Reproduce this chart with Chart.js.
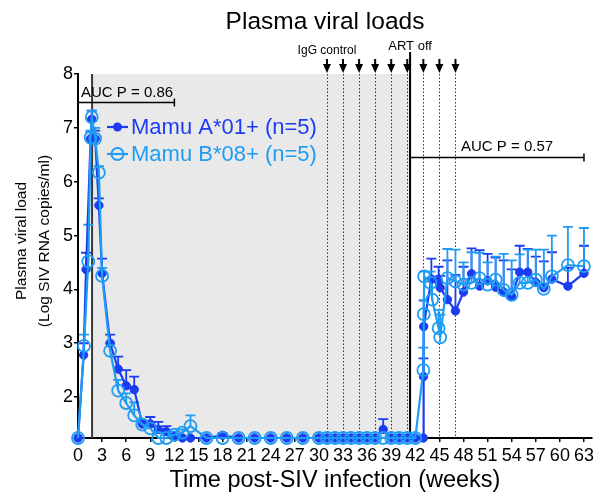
<!DOCTYPE html>
<html><head><meta charset="utf-8">
<script src="https://cdn.jsdelivr.net/npm/chart.js@4.4.1/dist/chart.umd.min.js"></script>
<style>html,body{margin:0;padding:0;background:#fff}canvas{display:block}</style>
</head><body>
<canvas id="c" width="602" height="499"></canvas>
<script>
// ---------- data ----------
const LOD = 1.24; // limit of detection (bottom of axis)
const L = LOD;

// Mamu A*01+ (n=5)
const weeksA = [0, 0.7, 1.0, 1.57, 1.71, 2.14, 2.6, 3, 4, 5, 6, 7, 8, 9, 10, 11, 12, 13, 14, 16, 18,
  20, 22, 24, 26, 28, 30, 31, 32, 33, 34, 35, 36, 37, 38, 39, 40, 41, 42, 43, 43.02, 43.05,
  44, 44.9, 45.1, 46, 47, 48, 49, 50, 51, 52, 53, 54, 55, 56, 57, 58, 59, 61, 63];
const loadA = [L, 2.78, 4.37, 6.80, 7.16, 6.80, 5.56, 4.30, 3.00, 2.52, 2.21, 2.14, 1.50, 1.50, 1.40, 1.36, 1.27, L, L, L, 1.29,
  L, L, L, L, L, L, L, L, L, L, L, L, L, 1.40, L, L, L, L, L, 2.38, 3.31,
  4.19, 4.15, 4.03, 3.81, 3.60, 3.95, 4.29, 4.06, 4.16, 4.04, 3.95, 3.87, 4.32, 4.32, 4.13, 4.03, 4.19, 4.06, 4.30];
const errTopA = [null, 3.00, 4.68, 6.92, 7.32, 6.95, 5.69, 4.57, 3.16, 2.75, 2.50, 2.38, 1.56, 1.63, 1.54, 1.46, 1.32, null, null, null, 1.33,
  null, null, null, null, null, null, null, null, null, null, null, null, null, 1.59, null, null, null, null, null, 2.72, 3.79,
  4.57, 4.42, 4.25, 4.54, 4.27, 4.42, 4.76, 4.73, 4.66, 4.59, 4.54, 4.37, 4.81, 4.75, 4.61, 4.52, 4.69, 4.40, 4.81];

// Mamu B*08+ (n=5)
const weeksB = [0, 0.75, 1.28, 1.57, 1.71, 2.14, 2.6, 3, 4, 5, 6, 7, 8, 9, 10, 11, 12, 13, 14, 16, 18,
  20, 22, 24, 26, 28, 30, 31, 32, 33, 34, 35, 36, 37, 38, 39, 40, 41, 42, 43, 43.05, 43.1,
  43.9, 44.1, 44.9, 45.1, 46, 47, 48, 49, 50, 51, 52, 53, 54, 55, 56, 57, 58, 59, 61, 63];
const loadB = [L, 2.95, 4.52, 6.82, 7.20, 6.80, 6.17, 4.25, 2.86, 2.12, 1.89, 1.66, 1.49, 1.42, L, L, 1.30, 1.34, 1.46, L, L,
  L, L, L, L, L, L, L, L, L, L, L, L, L, L, L, L, L, L, 2.50, 3.54, 4.24,
  4.12, 3.81, 3.28, 3.11, 4.21, 4.15, 4.09, 4.12, 4.21, 4.09, 4.18, 3.99, 3.90, 4.12, 4.12, 4.18, 4.01, 4.24, 4.45, 4.43];
const errTopB = [null, 3.16, 5.20, 6.95, 7.32, 7.00, 6.29, 4.40, 3.00, 2.32, 2.07, 1.90, 1.55, 1.50, null, null, 1.36, 1.40, 1.66, null, null,
  null, null, null, null, null, null, null, null, null, null, null, null, null, null, null, null, null, null, 2.92, 3.80, 4.33,
  4.33, 4.20, 3.62, 3.53, 4.75, 4.74, 4.50, 4.69, 4.68, 4.50, 4.61, 4.66, 4.54, 4.65, 4.74, 4.74, 4.74, 5.00, 5.16, 5.14];

const xTickValues = [0, 3, 6, 9, 12, 15, 18, 21, 24, 27, 30, 33, 36, 39, 42, 45, 48, 51, 54, 57, 60, 63];
const yTickValues = [2, 3, 4, 5, 6, 7, 8];

// annotations (in data units)
const shadeFromWeek = 1.75, shadeToWeek = 41.35;
const peakLineWeek = 1.75;
const artOffWeek = 41.35;
const igGWeeks = [31, 33, 35, 37, 39, 41, 43, 45, 47];
const auc1 = {from: 0, to: 12, level: 7.48, text: 'AUC P = 0.86'};
const auc2 = {from: 41.35, to: 63, level: 6.45, text: 'AUC P = 0.57'};

const labelA = 'Mamu A*01+ (n=5)';
const labelB = 'Mamu B*08+ (n=5)';
const colA = '#1c3cf2';
const colB = '#1f9cf3';
const FONT = "'Liberation Sans', Arial, sans-serif";

// ---------- plugins ----------
const deco = {
  id: 'deco',
  beforeDraw(chart) {
    const {ctx, chartArea: a, scales: {x}} = chart;
    const x0 = x.getPixelForValue(shadeFromWeek), x1 = x.getPixelForValue(shadeToWeek);
    ctx.save();
    ctx.fillStyle = '#e9e9e9';
    ctx.fillRect(x0, a.top, x1 - x0, a.bottom - a.top);
    ctx.restore();
  },
  beforeDatasetsDraw(chart) {
    const {ctx, chartArea: a, scales: {x, y}} = chart;
    ctx.save();
    ctx.strokeStyle = '#333';
    ctx.lineWidth = 1;
    ctx.setLineDash([1.5, 2]);
    igGWeeks.forEach(w => {
      const px = Math.round(x.getPixelForValue(w)) + 0.5;
      ctx.beginPath(); ctx.moveTo(px, a.top); ctx.lineTo(px, a.bottom); ctx.stroke();
    });
    ctx.setLineDash([]);
    ctx.strokeStyle = '#3a3a3a';
    ctx.lineWidth = 2;
    let px = x.getPixelForValue(peakLineWeek);
    ctx.beginPath(); ctx.moveTo(px, a.top); ctx.lineTo(px, a.bottom); ctx.stroke();
    ctx.strokeStyle = '#000';
    px = x.getPixelForValue(artOffWeek);
    ctx.beginPath(); ctx.moveTo(px, 52); ctx.lineTo(px, a.bottom); ctx.stroke();
    const sets = [[1, errTopA, colA], [0, errTopB, colB]];
    sets.forEach(([di, errs, col]) => {
      const meta = chart.getDatasetMeta(di);
      ctx.strokeStyle = col;
      ctx.lineWidth = 1.8;
      meta.data.forEach((pt, j) => {
        const e = errs[j];
        if (e == null) return;
        const yt = y.getPixelForValue(e);
        ctx.beginPath();
        ctx.moveTo(pt.x, pt.y); ctx.lineTo(pt.x, yt);
        ctx.moveTo(pt.x - 5, yt); ctx.lineTo(pt.x + 5, yt);
        ctx.stroke();
      });
    });
    ctx.restore();
  },
  afterDraw(chart) {
    const {ctx, chartArea: a, scales: {x, y}} = chart;
    ctx.save();
    ctx.fillStyle = '#000'; ctx.strokeStyle = '#000'; ctx.lineWidth = 2;
    igGWeeks.forEach(w => {
      const px = x.getPixelForValue(w);
      ctx.beginPath(); ctx.moveTo(px, 59); ctx.lineTo(px, 66); ctx.stroke();
      ctx.beginPath(); ctx.moveTo(px - 4, 64); ctx.lineTo(px + 4, 64); ctx.lineTo(px, 73); ctx.closePath(); ctx.fill();
    });
    ctx.textAlign = 'center'; ctx.textBaseline = 'alphabetic';
    ctx.font = '12px ' + FONT;
    ctx.fillText('IgG control', x.getPixelForValue(igGWeeks[0]), 54);
    ctx.font = '13px ' + FONT;
    ctx.fillText('ART off', x.getPixelForValue(artOffWeek), 50);
    ctx.lineWidth = 1.5;
    [auc1, auc2].forEach((b, i) => {
      const x0 = x.getPixelForValue(b.from), x1 = x.getPixelForValue(b.to), yy = Math.round(y.getPixelForValue(b.level)) + 0.5;
      ctx.beginPath();
      ctx.moveTo(x0, yy); ctx.lineTo(x1, yy);
      ctx.moveTo(x0, yy - 4); ctx.lineTo(x0, yy + 4);
      ctx.moveTo(x1, yy - 4); ctx.lineTo(x1, yy + 4);
      ctx.stroke();
      ctx.font = '15px ' + FONT;
      if (i === 0) { ctx.textAlign = 'left'; ctx.fillText(b.text, x0 + 3, yy - 6); }
      else { ctx.textAlign = 'center'; ctx.fillText(b.text, (x0 + x1) / 2 + 10, yy - 7); }
    });
    ctx.textAlign = 'center';
    ctx.font = '24.5px ' + FONT;
    ctx.fillText('Plasma viral loads', 325, 29);
    ctx.save();
    ctx.translate(22, 241); ctx.rotate(-Math.PI / 2);
    ctx.font = '15.5px ' + FONT; ctx.textBaseline = 'middle';
    ctx.fillText('Plasma viral load', 0, 0);
    ctx.fillText('(Log SIV RNA copies/ml)', 0, 23);
    ctx.restore();
    const rows = [[labelA, colA, true, 127], [labelB, colB, false, 154]];
    rows.forEach(([txt, col, filled, yy]) => {
      ctx.strokeStyle = col; ctx.fillStyle = col; ctx.lineWidth = 2.2;
      ctx.beginPath(); ctx.moveTo(107, yy); ctx.lineTo(128, yy); ctx.stroke();
      ctx.beginPath();
      if (filled) { ctx.arc(117.5, yy, 4.5, 0, Math.PI * 2); ctx.fill(); }
      else { ctx.lineWidth = 1.8; ctx.arc(117.5, yy, 6, 0, Math.PI * 2); ctx.stroke(); }
      ctx.font = '22px ' + FONT; ctx.textAlign = 'left'; ctx.textBaseline = 'middle';
      ctx.fillText(txt, 131, yy + 1);
    });
    ctx.restore();
  }
};

const toXY = (ws, vs) => ws.map((w, i) => ({x: w, y: vs[i]}));

new Chart(document.getElementById('c').getContext('2d'), {
  type: 'line',
  data: {
    datasets: [
      {label: labelB, data: toXY(weeksB, loadB), borderColor: colB, backgroundColor: 'rgba(0,0,0,0)',
        pointBackgroundColor: 'rgba(0,0,0,0)', pointBorderColor: colB, pointRadius: 6, pointBorderWidth: 1.8,
        borderWidth: 2.2, tension: 0, clip: false, order: 0},
      {label: labelA, data: toXY(weeksA, loadA), borderColor: colA, backgroundColor: colA,
        pointBackgroundColor: colA, pointBorderColor: colA, pointRadius: 4.2, pointBorderWidth: 1,
        borderWidth: 2.2, tension: 0, clip: false, order: 1}
    ]
  },
  options: {
    responsive: false, animation: false, devicePixelRatio: 1,
    layout: {padding: {left: 0, top: 74, right: 10, bottom: 0}},
    plugins: {legend: {display: false}, title: {display: false}, tooltip: {enabled: false}},
    scales: {
      x: {
        type: 'linear', min: 0, max: 64,
        afterBuildTicks: s => { s.ticks = xTickValues.map(v => ({value: v})); },
        afterFit: s => { s.height = 61; },
        ticks: {font: {family: FONT, size: 18}, color: '#000', padding: 3, maxRotation: 0, autoSkip: false},
        grid: {display: true, drawOnChartArea: false, drawTicks: true, tickLength: 4, color: '#000', lineWidth: 1.5},
        border: {display: true, color: '#000', width: 2},
        title: {display: true, text: 'Time post-SIV infection (weeks)', color: '#000',
          font: {family: FONT, size: 23.5}, padding: {top: 0, bottom: 4}}
      },
      y: {
        type: 'linear', min: LOD, max: 8,
        afterBuildTicks: s => { s.ticks = yTickValues.map(v => ({value: v})); },
        afterFit: s => { s.width = 78; },
        ticks: {font: {family: FONT, size: 18}, color: '#000', padding: 1},
        grid: {display: true, drawOnChartArea: false, drawTicks: true, tickLength: 4, color: '#000', lineWidth: 1.5},
        border: {display: true, color: '#000', width: 2}
      }
    }
  },
  plugins: [deco]
});
</script>
</body></html>
